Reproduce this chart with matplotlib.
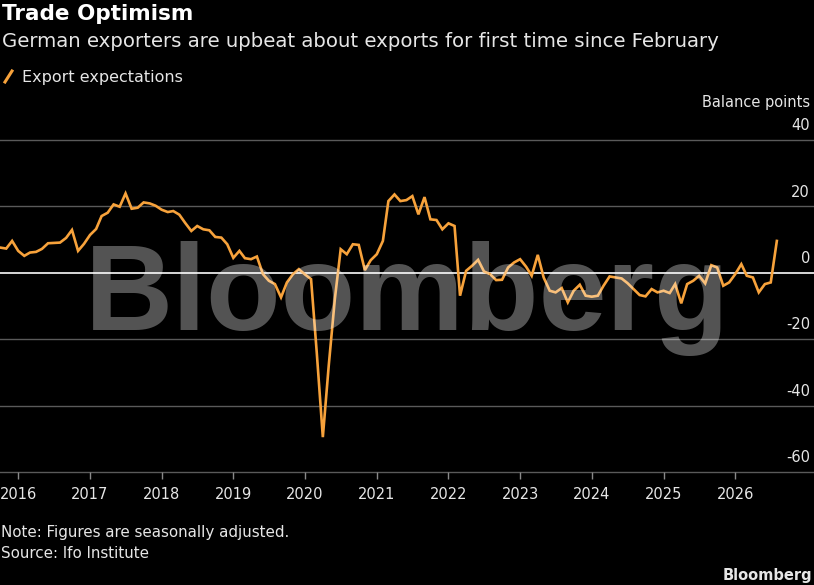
import matplotlib
matplotlib.use("Agg")
import matplotlib.pyplot as plt
from matplotlib.lines import Line2D
import pandas as pd

# ifo export expectations, monthly from Oct 2015
start_month = "2015-10-01"
export_expectations = [
    7.6, 7.3, 9.6,
    6.6, 5.1, 6.1, 6.3, 7.2, 8.9, 9.0, 9.1, 10.5, 12.9, 6.6, 8.7,
    11.4, 13.2, 17.1, 18.1, 20.6, 19.9, 23.9, 19.3, 19.6, 21.2, 20.9, 20.2,
    19.0, 18.3, 18.6, 17.5, 15.0, 12.6, 14.1, 13.1, 12.8, 10.8, 10.6, 8.6,
    4.5, 6.6, 4.4, 4.1, 4.9, -0.4, -2.4, -3.4, -7.4, -2.9, -0.4, 1.1,
    -0.5, -1.9, -24.0, -49.5, -28.0, -8.0, 7.1, 5.6, 8.6, 8.4, 0.8, 3.8,
    5.6, 9.6, 21.6, 23.6, 21.6, 21.9, 23.1, 17.6, 22.8, 16.1, 15.9, 13.1,
    14.9, 14.1, -6.9, 0.6, 2.1, 3.9, 0.4, -0.4, -2.2, -2.1, 1.6, 3.1,
    4.1, 1.8, -0.9, 5.4, -1.4, -5.4, -5.9, -4.6, -8.9, -5.4, -3.6, -6.9,
    -7.2, -6.9, -3.9, -1.1, -1.4, -1.7, -3.1, -4.9, -6.7, -7.1, -4.9, -5.9,
    -5.4, -6.1, -3.4, -9.2, -3.4, -2.4, -0.9, -3.2, 2.3, 1.6, -3.9, -2.9,
    -0.4, 2.6, -0.9, -1.4, -5.9, -3.4, -2.9, 9.6,
]
years = list(range(2016, 2027))
y_ticks = [40, 20, 0, -20, -40, -60]

W, H = 814, 585
orange = "#f7a23b"
grid_col = "#5a5a5a"
txt_col = "#e6e6e6"

dates = pd.date_range(start_month, periods=len(export_expectations), freq="MS")

fig = plt.figure(figsize=(W / 100, H / 100), dpi=100, facecolor="black")
ax = fig.add_axes([0, 1 - 472 / H, 1, (472 - 140) / H])
ax.set_facecolor("black")

ax.plot(dates, export_expectations, color=orange, lw=1.9, zorder=3, solid_joinstyle="miter")

for v in y_ticks:
    if v == 0:
        ax.axhline(v, color="#e8e8e8", lw=1.3, zorder=2)
    else:
        ax.axhline(v, color=grid_col, lw=1.0, zorder=1, clip_on=False)
    ax.annotate(str(v), xy=(0.995, v), xycoords=("axes fraction", "data"),
                xytext=(0, 7), textcoords="offset points", ha="right", va="baseline",
                color=txt_col, fontsize=10.5, annotation_clip=False)

left = pd.Timestamp("2016-01-01") - pd.Timedelta(days=92.7)
ax.set_xlim(left, left + pd.Timedelta(days=4147))
ax.set_ylim(-60, 40)

ax.set_xticks([pd.Timestamp(f"{y}-01-01") for y in years])
ax.set_xticklabels([str(y) for y in years])
ax.tick_params(axis="x", colors="#8a8a8a", length=5, width=1, pad=6, labelsize=10.5, labelcolor=txt_col)
ax.set_yticks([])
for s in ax.spines.values():
    s.set_visible(False)

# watermark
fig.text(0.5, 1 - 330 / H, "Bloomberg", ha="center", va="baseline", fontsize=88,
         family="Liberation Sans", weight="bold", color="white", alpha=0.33, zorder=5)

fig.text(2 / W, 1 - 20 / H, "Trade Optimism", color="white", fontsize=15.5, weight="bold", va="baseline")
fig.text(2 / W, 1 - 47 / H, "German exporters are upbeat about exports for first time since February",
         color=txt_col, fontsize=14.2, va="baseline")
fig.add_artist(Line2D([5 / W, 12 / W], [1 - 82 / H, 1 - 71 / H], color=orange, lw=2.2))
fig.text(22 / W, 1 - 82 / H, "Export expectations", color=txt_col, fontsize=11.5, va="baseline")
fig.text(810 / W, 1 - 107 / H, "Balance points", color=txt_col, fontsize=10.5, ha="right", va="baseline")

fig.text(1 / W, 1 - 537 / H, "Note: Figures are seasonally adjusted.", color=txt_col, fontsize=10.9, va="baseline")
fig.text(1 / W, 1 - 558 / H, "Source: Ifo Institute", color=txt_col, fontsize=10.9, va="baseline")
fig.text(812 / W, 1 - 580 / H, "Bloomberg", color=txt_col, fontsize=10.5, weight="bold", ha="right", va="baseline")

fig.savefig("out.png", dpi=100, facecolor="black")
